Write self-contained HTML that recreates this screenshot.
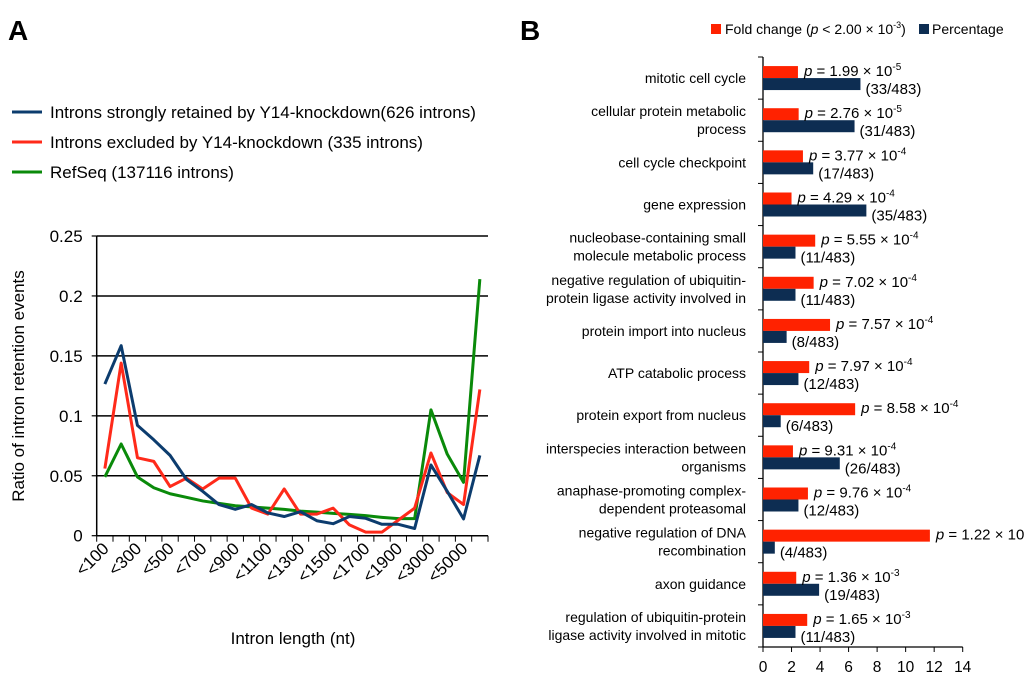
<!DOCTYPE html>
<html><head><meta charset="utf-8"><style>
body{margin:0;background:#fff;}
svg text{font-family:"Liberation Sans",Arial,sans-serif;}
</style></head><body>
<svg id="s" width="1024" height="683" xmlns="http://www.w3.org/2000/svg">
<text x="8" y="40" font-size="28" font-weight="bold">A</text>
<text x="520" y="40" font-size="28" font-weight="bold">B</text>
<g id="left"></g>
<g id="right"></g>
</svg>
<script>
const NS="http://www.w3.org/2000/svg";
const categories=["<100","<200","<300","<400","<500","<600","<700","<800","<900","<1000","<1100","<1200","<1300","<1400","<1500","<1600","<1700","<1800","<1900","<2000","<3000","<4000","<5000",">5000"];
const retained=[0.1265,0.1585,0.092,0.08,0.067,0.047,0.037,0.026,0.022,0.026,0.019,0.016,0.020,0.0125,0.010,0.016,0.0145,0.0095,0.0095,0.006,0.059,0.037,0.014,0.067];
const excluded=[0.056,0.144,0.065,0.062,0.041,0.048,0.039,0.048,0.048,0.023,0.018,0.039,0.018,0.018,0.023,0.009,0.003,0.003,0.013,0.023,0.069,0.036,0.026,0.122];
const refseq=[0.049,0.0765,0.049,0.040,0.035,0.032,0.029,0.027,0.025,0.024,0.023,0.022,0.0205,0.0197,0.0186,0.0178,0.0167,0.0153,0.0142,0.0142,0.105,0.068,0.0445,0.214];
const yTicks=[0,0.05,0.1,0.15,0.2,0.25];
const yTickLabels=["0","0.05","0.1","0.15","0.2","0.25"];

const goTerms=[["mitotic cell cycle"],["cellular protein metabolic","process"],["cell cycle checkpoint"],["gene expression"],["nucleobase-containing small","molecule metabolic process"],["negative regulation of ubiquitin-","protein ligase activity involved in"],["protein import into nucleus"],["ATP catabolic process"],["protein export from nucleus"],["interspecies interaction between","organisms"],["anaphase-promoting complex-","dependent proteasomal"],["negative regulation of DNA","recombination"],["axon guidance"],["regulation of ubiquitin-protein","ligase activity involved in mitotic"]];
const foldChange=[2.45,2.5,2.8,2.0,3.66,3.55,4.7,3.24,6.46,2.1,3.15,11.7,2.33,3.1];
const geneCounts=[33,31,17,35,11,11,8,12,6,26,12,4,19,11];
const pMant=["1.99","2.76","3.77","4.29","5.55","7.02","7.57","7.97","8.58","9.31","9.76","1.22","1.36","1.65"];
const pExp=["-5","-5","-4","-4","-4","-4","-4","-4","-4","-4","-4","-3","-3","-3"];
const xTicksB=[0,2,4,6,8,10,12,14];

function el(t,a,p){const e=document.createElementNS(NS,t);for(const k in a)e.setAttribute(k,a[k]);p.appendChild(e);return e;}
const L=document.getElementById('left'), R=document.getElementById('right');

const x0=96.7,x1=488,yb=535.7,yt=236;
const bw=(x1-x0)/categories.length;
const xs=i=>x0+bw*(i+0.5);
const ys=v=>yb-(v/0.25)*(yb-yt);
yTicks.forEach((v,i)=>{
 const g=el('line',{x1:x0,x2:x1,y1:ys(v),y2:ys(v),stroke:'#000','stroke-width':1.5},L);
 
 el('line',{x1:x0-5,x2:x0,y1:ys(v),y2:ys(v),stroke:'#000','stroke-width':1.2},L);
 const t=el('text',{x:x0-14,y:ys(v)+6,'font-size':17,'text-anchor':'end'},L);t.textContent=yTickLabels[i];
 
});
el('line',{x1:x0,x2:x0,y1:yt,y2:yb,stroke:'#000','stroke-width':1.5},L);
for(let i=0;i<=categories.length;i++)el('line',{x1:x0+bw*i,x2:x0+bw*i,y1:yb,y2:yb+6,stroke:'#000','stroke-width':1},L);
categories.forEach((c,i)=>{if(i%2)return;
 const t=el('text',{'font-size':17,'text-anchor':'end',transform:`translate(${xs(i)+5},${yb+14}) rotate(-45)`},L);t.textContent=c;
 });
function line(d,col,name){const p=el('polyline',{points:d.map((v,i)=>xs(i)+','+ys(v)).join(' '),fill:'none',stroke:col,'stroke-width':3,'stroke-linejoin':'round'},L);
 }
line(refseq,'#0a8a0a','line-refseq');line(excluded,'#ff2a1a','line-excluded');line(retained,'#0c3c6e','line-retained');
let t=el('text',{x:293,y:644,'font-size':17,'text-anchor':'middle'},L);t.textContent='Intron length (nt)';

t=el('text',{'font-size':17,'text-anchor':'middle',transform:'translate(24,386) rotate(-90)'},L);t.textContent='Ratio of intron retention events';

[['#0c3c6e','Introns strongly retained by Y14-knockdown(626 introns)',112],['#ff2a1a','Introns excluded by Y14-knockdown (335 introns)',142],['#0a8a0a','RefSeq (137116 introns)',172]].forEach(([c,s,y])=>{
 const g=el('g',{},L);
 el('line',{x1:12,x2:42,y1:y,y2:y,stroke:c,'stroke-width':3},g);
 const tt=el('text',{x:50,y:y+6,'font-size':17},g);tt.textContent=s;});

const bx0=763,bx1=962.7,by0=57,by1=647;
const band=(by1-by0)/goTerms.length;
const xb=v=>bx0+(v/14)*(bx1-bx0);
el('line',{x1:bx0,x2:bx0,y1:by0,y2:by1,stroke:'#000','stroke-width':1.3},R);
el('line',{x1:bx0,x2:bx1,y1:by1,y2:by1,stroke:'#000','stroke-width':1.3},R);
for(let i=0;i<=goTerms.length;i++)el('line',{x1:bx0-5,x2:bx0,y1:by0+band*i,y2:by0+band*i,stroke:'#000'},R);
xTicksB.forEach(v=>{el('line',{x1:xb(v),x2:xb(v),y1:by1,y2:by1+5,stroke:'#000'},R);
 const tt=el('text',{x:xb(v),y:by1+25,'font-size':15.5,'text-anchor':'middle'},R);tt.textContent=v;
 });
goTerms.forEach((lines,i)=>{
 const top=by0+band*i, mid=top+band/2;
 const ty=lines.length==1?mid+5:mid-4;
 lines.forEach((s,k)=>{const tt=el('text',{x:746,y:ty+k*18,'font-size':14,'text-anchor':'end'},R);tt.textContent=s;
  });
 const r=el('rect',{x:bx0,y:mid-12,width:xb(foldChange[i])-bx0,height:12,fill:'#ff2200'},R);
 
 const pct=geneCounts[i]/483*100;
 const b=el('rect',{x:bx0,y:mid,width:xb(pct)-bx0,height:12,fill:'#0d2d52'},R);
 
 const pt=el('text',{x:xb(foldChange[i])+6,y:mid-2,'font-size':15},R);
 pt.innerHTML='<tspan font-style="italic">p</tspan> = '+pMant[i]+' × 10<tspan font-size="10" dy="-6">'+pExp[i]+'</tspan>';
 
 const ct=el('text',{x:xb(pct)+5,y:mid+16,'font-size':15},R);ct.textContent='('+geneCounts[i]+'/483)';
 
});
let lg=el('g',{},R);
el('rect',{x:711,y:24,width:10,height:10,fill:'#ff2200'},lg);
t=el('text',{x:725,y:34,'font-size':14},lg);t.innerHTML='Fold change  (<tspan font-style="italic">p</tspan> &lt; 2.00 × 10<tspan font-size="9" dy="-6">-3</tspan><tspan dy="6">)</tspan>';
lg=el('g',{},R);
el('rect',{x:919,y:24,width:10,height:10,fill:'#0d2d52'},lg);
t=el('text',{x:932,y:34,'font-size':14},lg);t.textContent='Percentage';
</script>
</body></html>
